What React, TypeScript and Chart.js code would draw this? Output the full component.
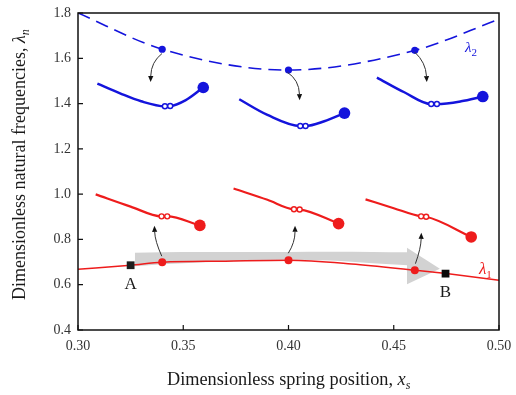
import React, { useEffect, useRef } from "react";
import { Chart, registerables } from "chart.js";
Chart.register(...registerables);

const FONT = '"Liberation Serif", "Times New Roman", serif';
const RED = "#ee1c1c";
const BLUE = "#1414dc";
const GRAY = "#d2d2d2";

// axis ranges / ticks
const xRange = [0.3, 0.5];
const yRange = [0.4, 1.8];
const xStep = 0.05;
const yStep = 0.2;

// first natural frequency lambda_1 (solid red)
const lambda1X = [0.3, 0.325, 0.34, 0.37, 0.4, 0.43, 0.46, 0.475, 0.5];
const lambda1Y = [0.668, 0.686, 0.699, 0.704, 0.708, 0.692, 0.664, 0.649, 0.62];
const lambda1DotX = [0.34, 0.4, 0.46];
const lambda1DotY = [0.699, 0.708, 0.664];

// second natural frequency lambda_2 (dashed blue)
const lambda2X = [0.3, 0.34, 0.4, 0.46, 0.5];
const lambda2Y = [1.8, 1.64, 1.548, 1.635, 1.772];
const lambda2DotX = [0.34, 0.4, 0.46];
const lambda2DotY = [1.64, 1.548, 1.635];

// end points A and B
const pointAX = [0.325];
const pointAY = [0.686];
const pointBX = [0.4746];
const pointBY = [0.649];

// local blue curves (mode 2)
const blue1X = [0.3092, 0.32, 0.33, 0.3413, 0.3438, 0.351, 0.3595];
const blue1Y = [1.488, 1.445, 1.41, 1.388, 1.389, 1.414, 1.471];
const blue2X = [0.3766, 0.39, 0.4056, 0.4081, 0.417, 0.4266];
const blue2Y = [1.419, 1.35, 1.301, 1.301, 1.322, 1.358];
const blue3X = [0.442, 0.455, 0.4678, 0.4705, 0.482, 0.4923];
const blue3Y = [1.515, 1.45, 1.398, 1.398, 1.41, 1.431];
const blueOpenX = [0.3413, 0.3438, 0.4056, 0.4081, 0.4678, 0.4705];
const blueOpenY = [1.388, 1.389, 1.301, 1.301, 1.398, 1.398];
const blueEndX = [0.3595, 0.4266, 0.4923];
const blueEndY = [1.471, 1.358, 1.431];

// local red curves (mode 1)
const red1X = [0.3084, 0.325, 0.3397, 0.3424, 0.3579];
const red1Y = [0.999, 0.945, 0.902, 0.902, 0.862];
const red2X = [0.3739, 0.39, 0.4026, 0.4053, 0.4238];
const red2Y = [1.025, 0.975, 0.933, 0.932, 0.87];
const red3X = [0.4366, 0.45, 0.463, 0.4654, 0.4868];
const red3Y = [0.977, 0.938, 0.902, 0.9, 0.811];
const redOpenX = [0.3397, 0.3424, 0.4026, 0.4053, 0.463, 0.4654];
const redOpenY = [0.902, 0.902, 0.933, 0.932, 0.902, 0.9];
const redEndX = [0.3579, 0.4238, 0.4868];
const redEndY = [0.862, 0.87, 0.811];

// grey band (wide arrow from A to B)
const bandX = [0.327, 0.34, 0.36, 0.38, 0.4, 0.42, 0.44, 0.4567];
const bandTop = [0.741, 0.743, 0.744, 0.745, 0.745, 0.746, 0.745, 0.743];
const bandBottom = [0.681, 0.69, 0.699, 0.706, 0.71, 0.707, 0.695, 0.686];
const bandHeadX = [0.4563, 0.4719, 0.4563];
const bandHeadY = [0.763, 0.671, 0.602];

// curved arrows: [from x, from y, control x, control y, tip x, tip y]
const blueArrows = [
  [0.3399, 1.621, 0.3347, 1.583, 0.3345, 1.495],
  [0.3995, 1.538, 0.405, 1.504, 0.4053, 1.415],
  [0.46, 1.627, 0.4652, 1.582, 0.4657, 1.495],
];
const redArrows = [
  [0.3398, 0.726, 0.3366, 0.792, 0.3363, 0.86],
  [0.3999, 0.739, 0.4031, 0.787, 0.4031, 0.86],
  [0.4603, 0.693, 0.4629, 0.761, 0.4631, 0.829],
];

// text labels
const lambda1Label = { x: 0.4905, y: 0.649 };
const lambda2Label = { x: 0.4838, y: 1.628 };

const pts = (xs: number[], ys: number[]) => xs.map((x, i) => ({ x, y: ys[i] }));

function drawRich(ctx: CanvasRenderingContext2D, parts: any[], x: number, y: number) {
  let cx = x;
  for (const p of parts) {
    ctx.font = `${p.italic ? "italic " : ""}${p.size}px ${FONT}`;
    ctx.fillText(p.text, cx, y + (p.dy || 0));
    cx += ctx.measureText(p.text).width;
  }
  return cx - x;
}

const decor = {
  id: "decor",
  beforeDatasetsDraw(chart: any) {
    const { ctx, scales } = chart;
    const xs = scales.x, ys = scales.y;
    ctx.save();
    ctx.fillStyle = GRAY;
    ctx.beginPath();
    bandHeadX.forEach((v, i) => {
      const px = xs.getPixelForValue(v), py = ys.getPixelForValue(bandHeadY[i]);
      if (i === 0) ctx.moveTo(px, py);
      else ctx.lineTo(px, py);
    });
    ctx.closePath();
    ctx.fill();
    ctx.restore();
  },
  afterDatasetsDraw(chart: any) {
    const { ctx, scales, chartArea: a } = chart;
    const xs = scales.x, ys = scales.y;
    ctx.save();
    // curved arrows
    const drawArrow = (r: number[]) => {
      const p0 = [xs.getPixelForValue(r[0]), ys.getPixelForValue(r[1])];
      const c = [xs.getPixelForValue(r[2]), ys.getPixelForValue(r[3])];
      const t = [xs.getPixelForValue(r[4]), ys.getPixelForValue(r[5])];
      const dx = t[0] - c[0], dy = t[1] - c[1];
      const len = Math.hypot(dx, dy) || 1;
      const ux = dx / len, uy = dy / len;
      const hl = 6, hw = 2.6;
      const b = [t[0] - ux * hl, t[1] - uy * hl];
      ctx.strokeStyle = "#333";
      ctx.lineWidth = 1;
      ctx.beginPath();
      ctx.moveTo(p0[0], p0[1]);
      ctx.quadraticCurveTo(c[0], c[1], b[0], b[1]);
      ctx.stroke();
      ctx.fillStyle = "#111";
      ctx.beginPath();
      ctx.moveTo(t[0], t[1]);
      ctx.lineTo(b[0] - uy * hw, b[1] + ux * hw);
      ctx.lineTo(b[0] + uy * hw, b[1] - ux * hw);
      ctx.closePath();
      ctx.fill();
    };
    blueArrows.forEach(drawArrow);
    redArrows.forEach(drawArrow);

    // frame
    ctx.strokeStyle = "#111";
    ctx.lineWidth = 1.5;
    ctx.strokeRect(a.left, a.top, a.right - a.left, a.bottom - a.top);
    // inward ticks
    ctx.lineWidth = 1.2;
    ctx.beginPath();
    xs.ticks.forEach((t: any) => {
      const px = xs.getPixelForValue(t.value);
      ctx.moveTo(px, a.bottom);
      ctx.lineTo(px, a.bottom - 5);
    });
    ys.ticks.forEach((t: any) => {
      const py = ys.getPixelForValue(t.value);
      ctx.moveTo(a.left, py);
      ctx.lineTo(a.left + 5, py);
    });
    ctx.stroke();

    // A / B labels
    ctx.fillStyle = "#1a1a1a";
    ctx.font = `17px ${FONT}`;
    ctx.textAlign = "center";
    ctx.textBaseline = "alphabetic";
    ctx.fillText("A", xs.getPixelForValue(pointAX[0]), ys.getPixelForValue(pointAY[0]) + 23.5);
    ctx.fillText("B", xs.getPixelForValue(pointBX[0]), ys.getPixelForValue(pointBY[0]) + 23.5);

    // lambda labels
    ctx.textAlign = "left";
    ctx.fillStyle = RED;
    drawRich(
      ctx,
      [
        { text: "λ", italic: true, size: 17 },
        { text: "1", size: 11, dy: 4 },
      ],
      xs.getPixelForValue(lambda1Label.x),
      ys.getPixelForValue(lambda1Label.y)
    );
    ctx.fillStyle = BLUE;
    drawRich(
      ctx,
      [
        { text: "λ", italic: true, size: 15 },
        { text: "2", size: 11, dy: 4 },
      ],
      xs.getPixelForValue(lambda2Label.x),
      ys.getPixelForValue(lambda2Label.y)
    );
    ctx.restore();
  },
  afterDraw(chart: any) {
    const { ctx } = chart;
    ctx.save();
    ctx.fillStyle = "#1a1a1a";
    ctx.textAlign = "left";
    ctx.textBaseline = "alphabetic";
    // x title
    drawRich(
      ctx,
      [
        { text: "Dimensionless spring position, ", size: 18.3 },
        { text: "x", italic: true, size: 18.3 },
        { text: "s", italic: true, size: 12, dy: 4 },
      ],
      167,
      385
    );
    // y title
    ctx.translate(25, 300);
    ctx.rotate(-Math.PI / 2);
    drawRich(
      ctx,
      [
        { text: "Dimensionless natural frequencies, ", size: 18 },
        { text: "λ", italic: true, size: 18 },
        { text: "n", italic: true, size: 12, dy: 4 },
      ],
      0,
      0
    );
    ctx.restore();
  },
};

export default function App() {
  const ref = useRef<HTMLCanvasElement | null>(null);
  useEffect(() => {
    if (!ref.current) return;
    const lineDs = (data: any, color: string, width: number, extra: any = {}) => ({
      data,
      showLine: true,
      borderColor: color,
      borderWidth: width,
      pointRadius: 0,
      cubicInterpolationMode: "monotone",
      fill: false,
      ...extra,
    });
    const dotDs = (data: any, color: string, r: number, extra: any = {}) => ({
      data,
      showLine: false,
      pointRadius: r,
      pointBackgroundColor: color,
      pointBorderColor: color,
      pointBorderWidth: 0,
      ...extra,
    });
    const chart = new Chart(ref.current, {
      type: "scatter",
      data: {
        datasets: [
          // band (bottom-most)
          lineDs(pts(bandX, bandTop), "rgba(0,0,0,0)", 0, {
            order: 100,
            fill: "+1",
            backgroundColor: GRAY,
          }),
          lineDs(pts(bandX, bandBottom), "rgba(0,0,0,0)", 0, { order: 99 }),
          // main curves
          lineDs(pts(lambda1X, lambda1Y), RED, 1.5, { order: 50 }),
          lineDs(pts(lambda2X, lambda2Y), BLUE, 1.6, { order: 50, borderDash: [13, 7] }),
          lineDs(pts(blue1X, blue1Y), BLUE, 2.5, { order: 50 }),
          lineDs(pts(blue2X, blue2Y), BLUE, 2.5, { order: 50 }),
          lineDs(pts(blue3X, blue3Y), BLUE, 2.5, { order: 50 }),
          lineDs(pts(red1X, red1Y), RED, 2.2, { order: 50 }),
          lineDs(pts(red2X, red2Y), RED, 2.2, { order: 50 }),
          lineDs(pts(red3X, red3Y), RED, 2.2, { order: 50 }),
          // markers
          dotDs(pts(lambda1DotX, lambda1DotY), RED, 4, { order: 10 }),
          dotDs(pts(lambda2DotX, lambda2DotY), BLUE, 3.6, { order: 10 }),
          dotDs(pts(blueEndX, blueEndY), BLUE, 5.8, { order: 10 }),
          dotDs(pts(redEndX, redEndY), RED, 5.8, { order: 10 }),
          dotDs(pts(blueOpenX, blueOpenY), "#ffffff", 2.5, {
            order: 5,
            pointBorderColor: BLUE,
            pointBorderWidth: 1.4,
          }),
          dotDs(pts(redOpenX, redOpenY), "#ffffff", 2.5, {
            order: 5,
            pointBorderColor: RED,
            pointBorderWidth: 1.4,
          }),
          dotDs(pts(pointAX, pointAY), "#1e1e1e", 5.5, { order: 4, pointStyle: "rect" }),
          dotDs(pts(pointBX, pointBY), "#0a0a0a", 5.5, { order: 4, pointStyle: "rect" }),
        ] as any,
      },
      options: {
        animation: false,
        responsive: true,
        maintainAspectRatio: false,
        events: [],
        layout: { padding: { top: 13, right: 17, left: 0, bottom: 0 } },
        plugins: { legend: { display: false }, tooltip: { enabled: false } },
        scales: {
          x: {
            type: "linear",
            min: xRange[0],
            max: xRange[1],
            grid: { display: false, drawTicks: false },
            border: { display: false },
            ticks: {
              stepSize: xStep,
              padding: 8,
              color: "#333",
              font: { family: FONT, size: 14 },
              callback: (v: any) => Number(v).toFixed(2),
            },
            afterFit: (s: any) => {
              s.height = 65;
              s.paddingLeft = 0;
              s.paddingRight = 0;
            },
          },
          y: {
            type: "linear",
            min: yRange[0],
            max: yRange[1],
            grid: { display: false, drawTicks: false },
            border: { display: false },
            ticks: {
              stepSize: yStep,
              padding: 7,
              color: "#333",
              font: { family: FONT, size: 14 },
              callback: (v: any) => Number(v).toFixed(1),
            },
            afterFit: (s: any) => {
              s.width = 78;
              s.paddingTop = 0;
              s.paddingBottom = 0;
            },
          },
        },
      } as any,
      plugins: [decor],
    });
    return () => chart.destroy();
  }, []);
  return (
    <div style={{ position: "fixed", left: 0, top: 0, width: 516, height: 395, background: "#fff" }}>
      <canvas ref={ref} />
    </div>
  );
}
